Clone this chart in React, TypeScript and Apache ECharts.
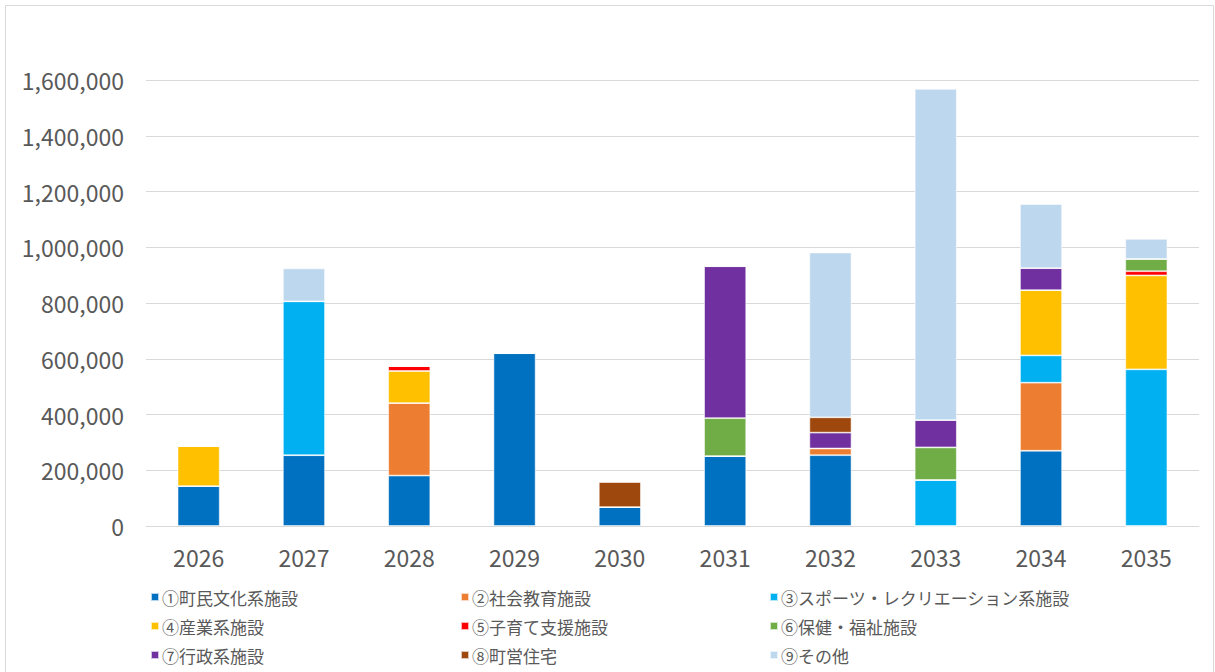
import React, { useEffect, useRef } from "react";
import * as echarts from "echarts";

const years = ["2026", "2027", "2028", "2029", "2030", "2031", "2032", "2033", "2034", "2035"];

const names = [
  "①町民文化系施設",
  "②社会教育施設",
  "③スポーツ・レクリエーション系施設",
  "④産業系施設",
  "⑤子育て支援施設",
  "⑥保健・福祉施設",
  "⑦行政系施設",
  "⑧町営住宅",
  "⑨その他",
];

const colors = ["#0070C0", "#ED7D31", "#00B0F0", "#FFC000", "#FF0000", "#70AD47", "#7030A0", "#9E480E", "#BDD7EE"];

const s1 = [143000, 254000, 181000, 620000, 68000, 251000, 254000, 0, 270000, 0];
const s2 = [0, 0, 260000, 0, 0, 0, 24000, 0, 244000, 0];
const s3 = [0, 552000, 0, 0, 0, 0, 0, 165000, 98000, 562000];
const s4 = [144000, 0, 115000, 0, 0, 0, 0, 0, 234000, 337000];
const s5 = [0, 0, 18000, 0, 0, 0, 0, 0, 0, 15000];
const s6 = [0, 0, 0, 0, 0, 136000, 0, 117000, 0, 44000];
const s7 = [0, 0, 0, 0, 0, 545000, 57000, 98000, 79000, 0];
const s8 = [0, 0, 0, 0, 90000, 0, 55000, 0, 0, 0];
const s9 = [0, 118000, 0, 0, 0, 0, 591000, 1188000, 230000, 72000];

const seriesValues = [s1, s2, s3, s4, s5, s6, s7, s8, s9];

const yTicks = { min: 0, max: 1600000, interval: 200000 };

const FONT = "'Noto Sans CJK JP', 'Noto Sans', sans-serif";

export default function App() {
  const ref = useRef<HTMLDivElement>(null);
  useEffect(() => {
    if (!ref.current) return;
    const chart = echarts.init(ref.current, undefined, { renderer: "svg" });
    const colLeft = [150, 460, 769];
    const rowTop = [587, 616, 645];
    const legends = names.map((n, i) => ({
      show: true,
      orient: "horizontal",
      left: colLeft[i % 3],
      top: rowTop[Math.floor(i / 3)],
      padding: 0,
      itemWidth: 8,
      itemHeight: 8,
      icon: "rect",
      data: [n],
      textStyle: { color: "#595959", fontSize: 17, fontFamily: FONT, lineHeight: 20, padding: [0, 0, 0, -2] },
    }));
    chart.setOption({
      animation: false,
      backgroundColor: "#ffffff",
      color: colors,
      graphic: [
        {
          type: "rect",
          shape: { x: 5.5, y: 5.5, width: 1208, height: 700 },
          style: { fill: "none", stroke: "#d9d9d9", lineWidth: 1 },
          silent: true,
        },
      ],
      legend: legends,
      grid: { left: 146, right: 16, top: 80, bottom: 146, containLabel: false },
      xAxis: {
        type: "category",
        data: years,
        axisTick: { show: false },
        axisLine: { lineStyle: { color: "#d9d9d9", width: 1 } },
        axisLabel: { color: "#595959", fontSize: 23, fontFamily: FONT, margin: 19 },
      },
      yAxis: {
        type: "value",
        min: yTicks.min,
        max: yTicks.max,
        interval: yTicks.interval,
        axisLine: { show: false },
        axisTick: { show: false },
        splitLine: { lineStyle: { color: "#d9d9d9", width: 1 } },
        axisLabel: {
          color: "#595959",
          fontSize: 23,
          fontFamily: FONT,
          margin: 22,
          formatter: (v: number) => v.toLocaleString("en-US"),
        },
      },
      series: seriesValues.map((vals, i) => ({
        name: names[i],
        type: "bar",
        stack: "total",
        barWidth: "40%",
        data: vals,
        itemStyle: { color: colors[i], borderColor: "rgba(255,255,255,0.7)", borderWidth: 0.8 },
      })),
    });
    return () => chart.dispose();
  }, []);
  return (
    <div
      ref={ref}
      style={{ position: "fixed", left: 0, top: 0, width: 1215, height: 672, background: "#fff" }}
    />
  );
}
